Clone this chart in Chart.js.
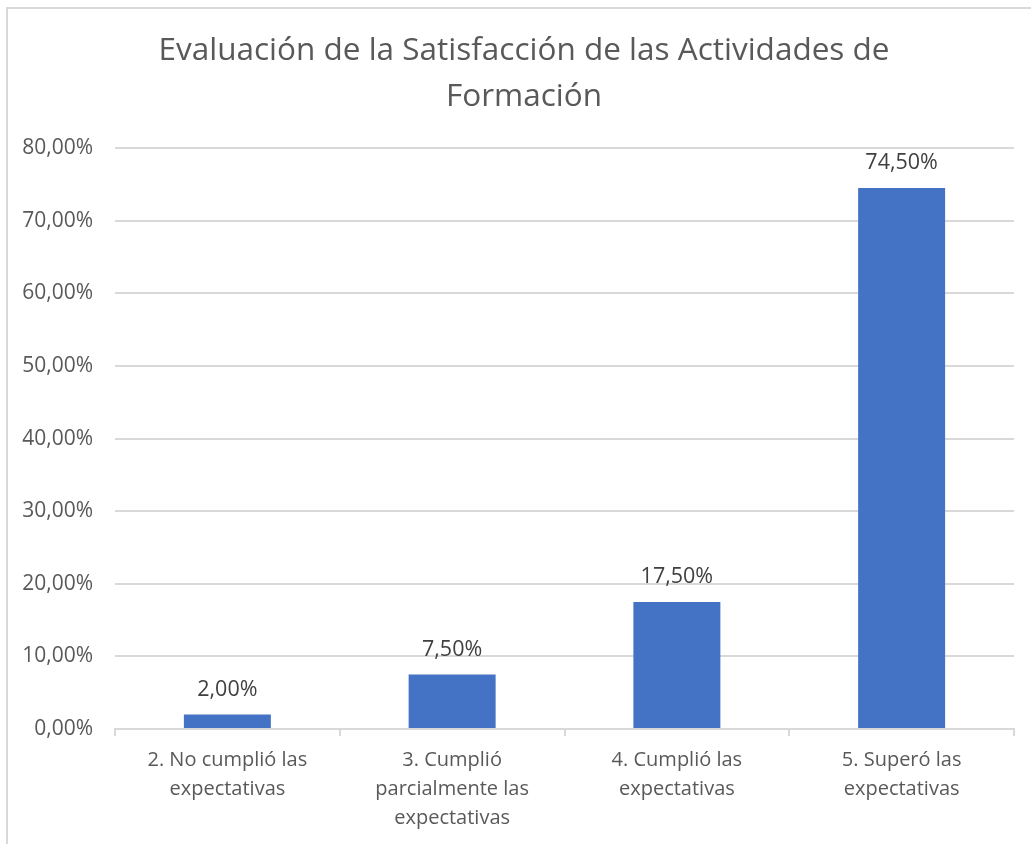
<!DOCTYPE html>
<html>
<head>
<meta charset="utf-8">
<script src="https://cdn.jsdelivr.net/npm/chart.js@4"></script>
<style>
  html, body { margin: 0; padding: 0; background: #fff; overflow: hidden; }
  #frame {
    position: absolute; left: 6px; top: 7px;
    width: 1100px; height: 900px;
    border: 2px solid #d9d9d9;
  }
  #wrap { position: absolute; left: 0; top: 0; width: 1031px; height: 844px; }
</style>
</head>
<body>
<div id="frame"></div>
<div id="wrap"><canvas id="chart" width="1031" height="844"></canvas></div>
<script>
const categories = [
  ["2. No cumplió las", "expectativas"],
  ["3. Cumplió", "parcialmente las", "expectativas"],
  ["4. Cumplió las", "expectativas"],
  ["5. Superó las", "expectativas"],
];
const percentages = [2.0, 7.5, 17.5, 74.5];
const titleLines = ["Evaluación de la Satisfacción de las Actividades de", "Formación"];

const FONT = "'Open Sans', sans-serif";
const fmt = (v) => v.toFixed(2).replace(".", ",") + "%";

// draws the value above every bar
const barLabels = {
  id: "barLabels",
  afterDatasetsDraw(chart) {
    const { ctx } = chart;
    const meta = chart.getDatasetMeta(0);
    ctx.save();
    ctx.font = `21.5px ${FONT}`;
    ctx.fillStyle = "#404040";
    ctx.textAlign = "center";
    ctx.textBaseline = "middle";
    meta.data.forEach((bar, i) => {
      ctx.fillText(fmt(percentages[i]), bar.x, bar.y - 25);
    });
    ctx.restore();
  },
};

// the title in the original sits a bit right of the canvas centre
const titleShift = {
  id: "titleShift",
  afterLayout(chart) {
    if (chart.titleBlock) chart.titleBlock.left = 34;
  },
};

new Chart(document.getElementById("chart"), {
  type: "bar",
  data: {
    labels: categories,
    datasets: [
      {
        data: percentages,
        backgroundColor: "#4472C4",
        barPercentage: 1,
        categoryPercentage: 0.387,
      },
    ],
  },
  options: {
    responsive: false,
    animation: false,
    layout: { padding: { left: 0, right: 17, top: 0, bottom: 0 } },
    plugins: {
      legend: { display: false },
      tooltip: { enabled: false },
      title: {
        display: true,
        text: titleLines,
        color: "#595959",
        font: { family: FONT, size: 31.5, weight: "normal", lineHeight: 1.43 },
        padding: { top: 29, bottom: 29 },
      },
    },
    scales: {
      x: {
        grid: {
          offset: true,
          drawOnChartArea: false,
          drawTicks: true,
          tickLength: 7,
          color: "#d9d9d9",
          lineWidth: 2,
        },
        border: { color: "#d9d9d9", width: 2 },
        ticks: {
          color: "#595959",
          font: { family: FONT, size: 20, lineHeight: 1.45 },
          padding: 10,
          maxRotation: 0,
          autoSkip: false,
        },
        afterFit: (s) => { s.height = 115; },
      },
      y: {
        min: 0,
        max: 80,
        grid: { color: "#d9d9d9", lineWidth: 2, drawTicks: false },
        border: { display: false },
        ticks: {
          stepSize: 10,
          color: "#595959",
          font: { family: FONT, size: 21 },
          padding: 22,
          callback: (v) => fmt(v),
        },
        afterFit: (s) => { s.width = 115; },
      },
    },
  },
  plugins: [barLabels, titleShift],
});
</script>
</body>
</html>
